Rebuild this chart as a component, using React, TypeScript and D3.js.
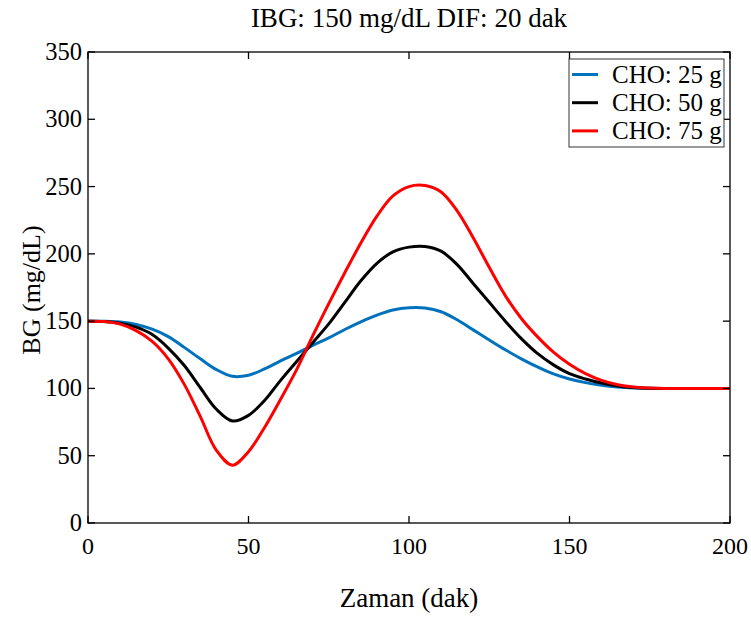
import React from "react";
import * as d3 from "d3";

const times = [0,5,10,15,20,25,30,35,40,45,50,55,60,65,70,75,80,85,90,95,100,105,110,115,120,125,130,135,140,145,150,155,160,165,170,175,180,190,200];
const cho25 = [150,149.9,149.3,147.5,144,138.5,130.5,122,114,109,109.8,114.5,120.5,126,132,137.5,143.8,149.5,154.5,158.3,160,159.8,157,151,143.5,136,128.7,122,116,110.8,107,104.3,102.3,101,100.3,100,100,100,100];
const cho50 = [150,149.8,148.5,145.5,140,130,117,100.5,84.5,75.8,80,91,106,120,134,148,164,180,193,201.5,205,205.5,202,192,178,164,150,137,126,117.5,111,107,104,101.8,100.6,100.1,100,100,100];
const cho75 = [150,149.7,147.8,143,135,122,103,79,54,43,53,71,92,114,139,163,186,208,228,243,250,250.8,246,232,212,190,169,152,138.5,127,118,111,106,102.8,101,100.3,100,100,100];

const seriesNames = ["CHO: 25 g", "CHO: 50 g", "CHO: 75 g"];
const seriesColors = ["#0072BD", "#000000", "#FF0000"];
const xTicks = [0, 50, 100, 150, 200];
const yTicks = [0, 50, 100, 150, 200, 250, 300, 350];

const W = 751, H = 617;
const L = 88, R = 730, T = 52, B = 523;
const FONT = "'Liberation Serif', 'Times New Roman', serif";

export default function App() {
  const x = d3.scaleLinear().domain([0, 200]).range([L, R]);
  const y = d3.scaleLinear().domain([0, 350]).range([B, T]);
  const line = d3.line<number>()
    .x((_, i) => x(times[i]))
    .y((d) => y(d))
    .curve(d3.curveCatmullRom.alpha(0.5));
  const all = [cho25, cho50, cho75];
  const tl = 7;
  return (
    <svg width={W} height={H} style={{ position: "absolute", left: 0, top: 0, background: "#fff" }}>
      <rect x={0} y={0} width={W} height={H} fill="#fff" />
      <text x={(L + R) / 2} y={27} textAnchor="middle" fontFamily={FONT} fontSize={27}>IBG: 150 mg/dL DIF: 20 dak</text>
      <defs>
        <clipPath id="clip"><rect x={L} y={T} width={R - L} height={B - T} /></clipPath>
      </defs>
      <g clipPath="url(#clip)">
        {all.map((s, i) => (
          <path key={i} d={line(s) || ""} fill="none" stroke={seriesColors[i]} strokeWidth={3} strokeLinejoin="round" />
        ))}
      </g>
      <rect x={L} y={T} width={R - L} height={B - T} fill="none" stroke="#000" strokeWidth={1.3} />
      {xTicks.map((t) => (
        <g key={"x" + t}>
          <line x1={x(t)} x2={x(t)} y1={B} y2={B - tl} stroke="#000" strokeWidth={1.3} />
          <line x1={x(t)} x2={x(t)} y1={T} y2={T + tl} stroke="#000" strokeWidth={1.3} />
          <text x={x(t)} y={B + 31} textAnchor="middle" fontFamily={FONT} fontSize={24}>{t}</text>
        </g>
      ))}
      {yTicks.map((t) => (
        <g key={"y" + t}>
          <line x1={L} x2={L + tl} y1={y(t)} y2={y(t)} stroke="#000" strokeWidth={1.3} />
          <line x1={R} x2={R - tl} y1={y(t)} y2={y(t)} stroke="#000" strokeWidth={1.3} />
          <text x={L - 6} y={y(t) + 8} textAnchor="end" fontFamily={FONT} fontSize={24.5}>{t}</text>
        </g>
      ))}
      <text x={(L + R) / 2} y={607} textAnchor="middle" fontFamily={FONT} fontSize={27}>Zaman (dak)</text>
      <text transform={`translate(40, 290) rotate(-90)`} textAnchor="middle" fontFamily={FONT} fontSize={26}>BG (mg/dL)</text>
      <g>
        <rect x={569} y={59} width={155} height={88} fill="#fff" stroke="#333" strokeWidth={1} />
        {seriesNames.map((n, i) => (
          <g key={n}>
            <line x1={572} x2={598} y1={74.5 + i * 28.2} y2={74.5 + i * 28.2} stroke={seriesColors[i]} strokeWidth={3} />
            <text x={612} y={74.5 + i * 28.2 + 8} fontFamily={FONT} fontSize={25}>{n}</text>
          </g>
        ))}
      </g>
    </svg>
  );
}
